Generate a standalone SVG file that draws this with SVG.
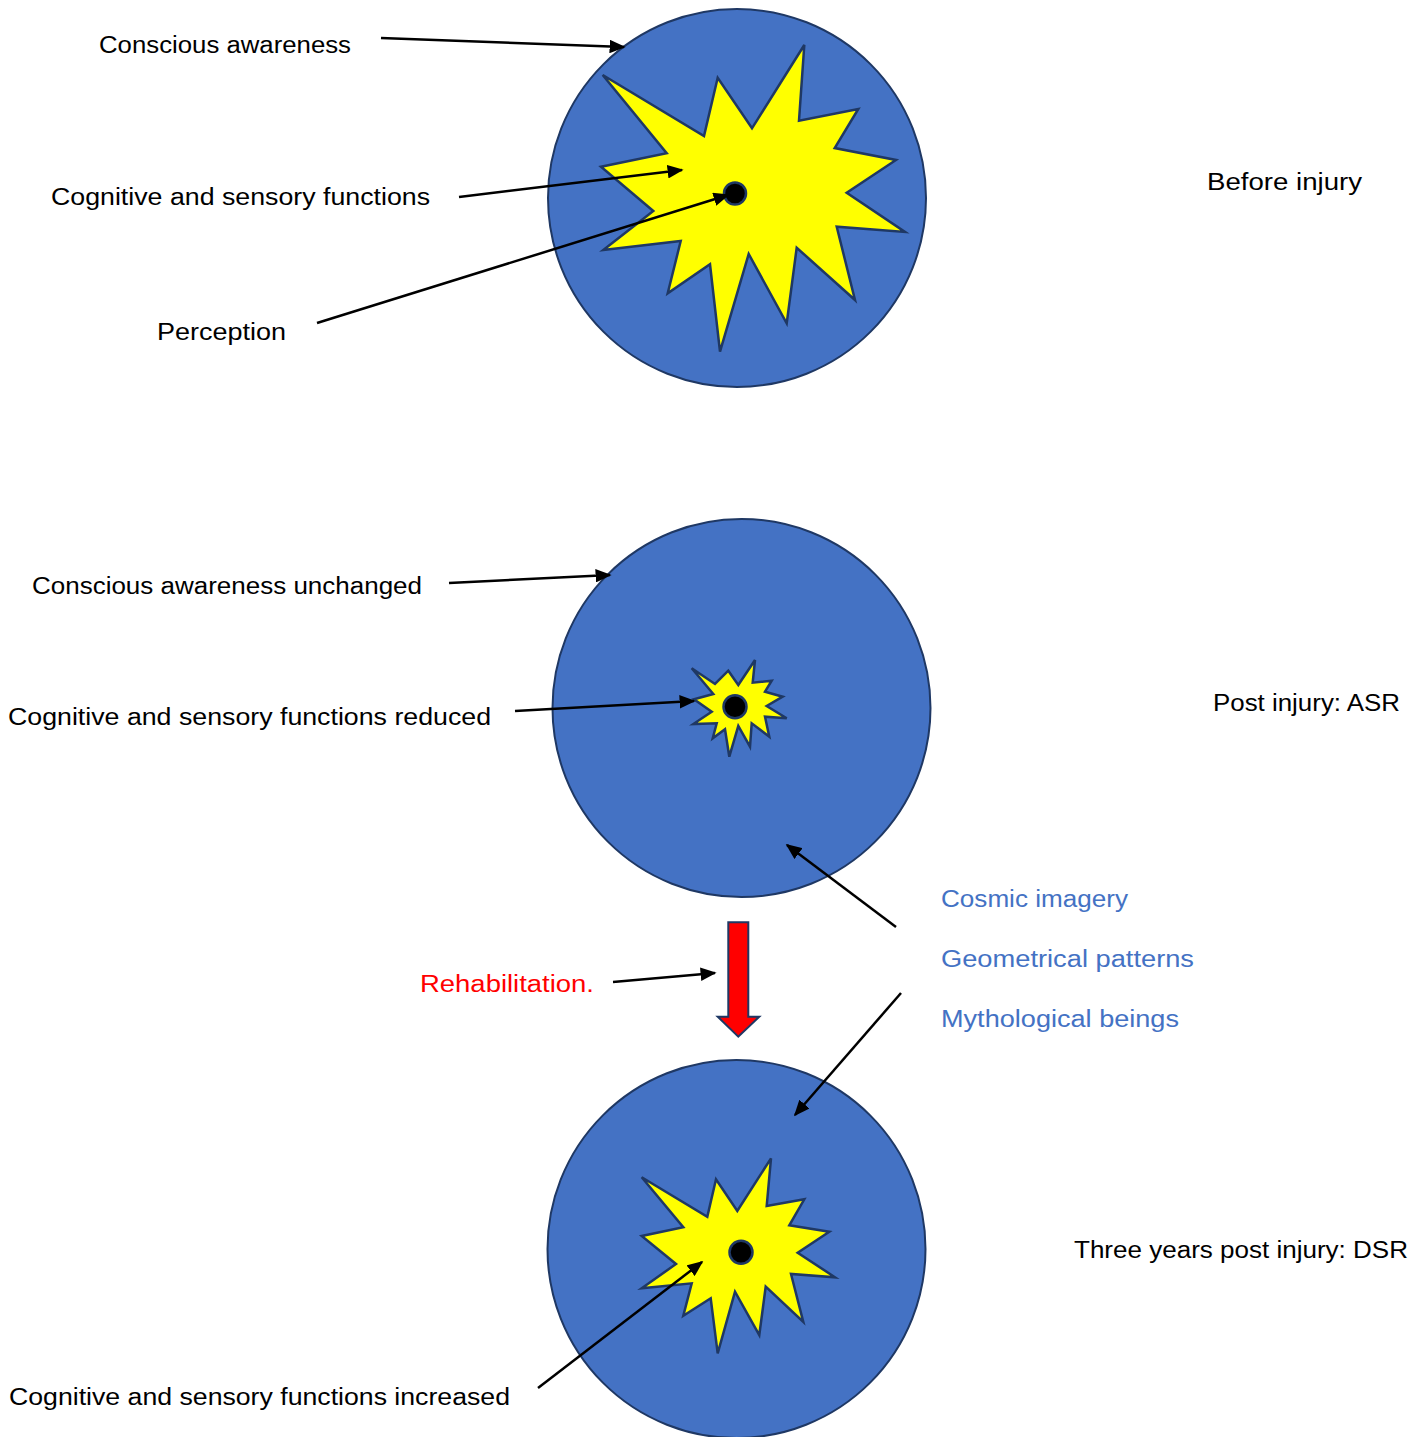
<svg xmlns="http://www.w3.org/2000/svg" width="1424" height="1437" viewBox="0 0 1424 1437">
<style>
.bg{fill:#ffffff}
.disc{fill:#4472C4;stroke:#1F3864;stroke-width:2}
.star{fill:#FFFF00;stroke:#1F3864;stroke-width:2.5;stroke-linejoin:miter}
.dot{fill:#000000;stroke:#1F3864;stroke-width:2.5}
.lbl{font-family:"Liberation Sans",Arial,sans-serif;font-size:23.5px;fill:#000000}
.blue{fill:#4472C4}
.red{fill:#FF0000}
.conn line{stroke:#000000;stroke-width:2.5;marker-end:url(#ah)}
.rarrow{fill:#FF0000;stroke:#1F3864;stroke-width:2}
</style>
<defs>
<marker id="ah" viewBox="0 0 10 10" refX="9" refY="5" markerWidth="6.4" markerHeight="5.4" orient="auto" markerUnits="strokeWidth" preserveAspectRatio="none">
<path d="M0,0 L10,5 L0,10 Z" fill="#000000"/>
</marker>
</defs>
<rect class="bg" x="0" y="0" width="1424" height="1437"/>

<g id="before">
<circle class="disc" cx="737" cy="198" r="189"/>
<polygon class="star" points="602.7,75 704,136 717.7,77.7 752,128.3 804.3,45 799,120.7 858.3,109 834.7,148 896,160 846.7,192.7 905,232 836.7,226.7 855,300 796.7,247.7 786.7,323.3 748.7,254 720,351.7 710,264.3 667.7,293.3 680.7,241 603.3,250 653.3,211 601,166.7 666.7,153.3"/>
<circle class="dot" cx="735" cy="193.5" r="11"/>
</g>

<g id="post">
<circle class="disc" cx="741.5" cy="708" r="189"/>
<polygon class="star" points="691.7,668.3 715,684 728.3,670.7 738.3,685 755,660 752.7,682.7 771.7,680.7 765,691.7 782.7,696.7 766.7,706 786.7,718.3 765,716.7 769.3,736.7 751.7,723.3 750,746.7 738.3,726 729.3,756.7 725,729.3 712.7,738.3 716.7,723.3 693.3,724 711.7,711.7 694,699.3 713.3,694"/>
<circle class="dot" cx="735" cy="706.7" r="11.5"/>
</g>

<g id="rehab-arrow">
<polygon class="rarrow" points="728.3,922.3 748.3,922.3 748.3,1016.7 759.3,1016.7 738.3,1036.7 717.7,1016.7 728.3,1016.7"/>
</g>

<g id="three-years">
<circle class="disc" cx="736.5" cy="1249" r="189"/>
<polygon class="star" points="641.7,1177.3 707.3,1216.7 716,1179.3 737.3,1211 771,1158.3 766.7,1206 804.3,1199.3 789.3,1225.3 829.3,1231.7 797.7,1252.7 835,1277.3 791,1274 803.3,1322 765.7,1286.7 759.3,1335 735,1291.7 717.7,1353.3 710.7,1298.3 683.3,1315.7 691.7,1283.3 641.7,1288.3 676,1264 641.7,1236 683.3,1227.3"/>
<circle class="dot" cx="741" cy="1252.3" r="11.5"/>
</g>

<g id="connectors" class="conn">
<line x1="381" y1="38" x2="624" y2="47"/>
<line x1="459" y1="197" x2="682" y2="170"/>
<line x1="317" y1="323" x2="728" y2="195"/>
<line x1="449" y1="583" x2="610" y2="575"/>
<line x1="515" y1="711" x2="694" y2="701"/>
<line x1="896" y1="927" x2="787" y2="845"/>
<line x1="901" y1="993" x2="795" y2="1115"/>
<line x1="613" y1="982" x2="715" y2="973"/>
<line x1="538" y1="1388" x2="702" y2="1262"/>
</g>

<g id="labels">
<text class="lbl" x="99" y="53" textLength="252" lengthAdjust="spacingAndGlyphs">Conscious awareness</text>
<text class="lbl" x="51" y="205" textLength="379" lengthAdjust="spacingAndGlyphs">Cognitive and sensory functions</text>
<text class="lbl" x="157" y="340" textLength="129" lengthAdjust="spacingAndGlyphs">Perception</text>
<text class="lbl" x="1207" y="190" textLength="155" lengthAdjust="spacingAndGlyphs">Before injury</text>
<text class="lbl" x="32" y="594" textLength="390" lengthAdjust="spacingAndGlyphs">Conscious awareness unchanged</text>
<text class="lbl" x="8" y="725" textLength="483" lengthAdjust="spacingAndGlyphs">Cognitive and sensory functions reduced</text>
<text class="lbl" x="1213" y="711" textLength="187" lengthAdjust="spacingAndGlyphs">Post injury: ASR</text>
<text class="lbl blue" x="941" y="907" textLength="187" lengthAdjust="spacingAndGlyphs">Cosmic imagery</text>
<text class="lbl blue" x="941" y="967" textLength="253" lengthAdjust="spacingAndGlyphs">Geometrical patterns</text>
<text class="lbl blue" x="941" y="1027" textLength="238" lengthAdjust="spacingAndGlyphs">Mythological beings</text>
<text class="lbl red" x="420" y="992" textLength="174" lengthAdjust="spacingAndGlyphs">Rehabilitation.</text>
<text class="lbl" x="1074" y="1258" textLength="334" lengthAdjust="spacingAndGlyphs">Three years post injury: DSR</text>
<text class="lbl" x="9" y="1405" textLength="501" lengthAdjust="spacingAndGlyphs">Cognitive and sensory functions increased</text>
</g>
</svg>
